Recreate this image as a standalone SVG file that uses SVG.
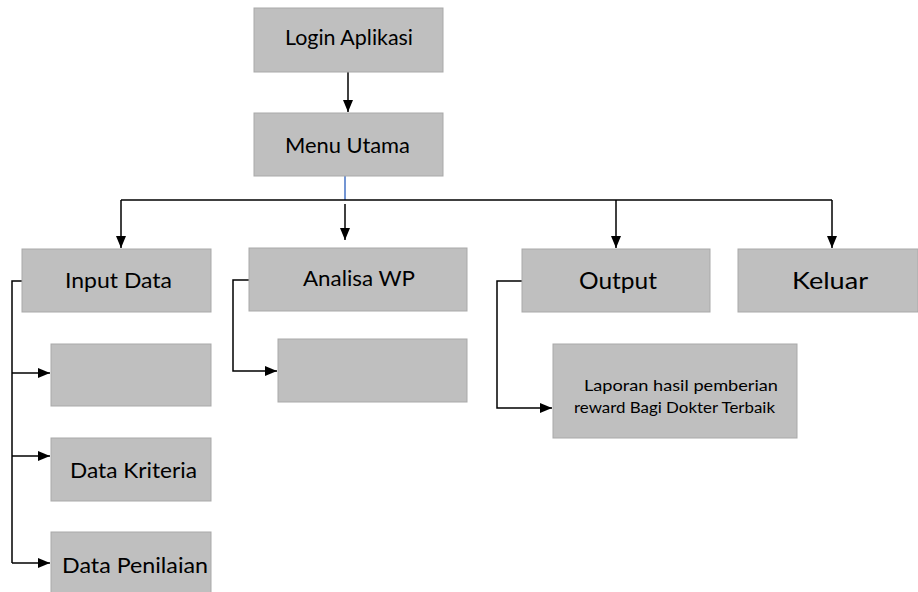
<svg xmlns="http://www.w3.org/2000/svg" width="918" height="592" viewBox="0 0 918 592">
  <style>
    .box { fill: #bfbfbf; stroke: #a9a9a9; stroke-width: 1; }
    text { font-family: "Lato", "Open Sans", sans-serif; fill: #000; }
    .lbl { font-size: 21px; }
    .lbl-m { font-size: 22px; }
    .lbl-l { font-size: 24px; }
    .lbl-s { font-size: 16px; }
    .wire { fill: none; stroke: #000; stroke-width: 1.5; }
  </style>
  <defs>
    <marker id="arrowH" viewBox="0 0 12 10" refX="12" refY="5" markerWidth="13" markerHeight="10" markerUnits="userSpaceOnUse" orient="auto">
      <path d="M0,0 L12,5 L0,10 z" fill="#000"/>
    </marker>
  </defs>

  <rect width="918" height="592" fill="#fff"/>

  <g id="connectors">
    <line class="wire" x1="348" y1="72" x2="348" y2="112" marker-end="url(#arrowH)"/>
    <line x1="345" y1="176" x2="345" y2="200" stroke="#4472c4" stroke-width="1.5"/>
    <line class="wire" x1="121" y1="200" x2="832" y2="200"/>
    <line class="wire" x1="121" y1="200" x2="121" y2="248" marker-end="url(#arrowH)"/>
    <line class="wire" x1="345" y1="204" x2="345" y2="240" marker-end="url(#arrowH)"/>
    <line class="wire" x1="616" y1="200" x2="616" y2="248" marker-end="url(#arrowH)"/>
    <line class="wire" x1="832" y1="200" x2="832" y2="248" marker-end="url(#arrowH)"/>

    <polyline class="wire" points="22,281 12,281 12,563"/>
    <line class="wire" x1="12" y1="373" x2="50" y2="373" marker-end="url(#arrowH)"/>
    <line class="wire" x1="12" y1="456" x2="50" y2="456" marker-end="url(#arrowH)"/>
    <line class="wire" x1="12" y1="563" x2="50" y2="563" marker-end="url(#arrowH)"/>

    <polyline class="wire" points="249,280 233,280 233,371 277,371" marker-end="url(#arrowH)"/>
    <polyline class="wire" points="522,281 497,281 497,408 552,408" marker-end="url(#arrowH)"/>
  </g>

  <g id="login">
    <rect class="box" x="254" y="8" width="189" height="64"/>
    <text class="lbl" x="285" y="45" textLength="128" lengthAdjust="spacingAndGlyphs">Login Aplikasi</text>
  </g>
  <g id="menu-utama">
    <rect class="box" x="254" y="113" width="189" height="63"/>
    <text class="lbl" x="285" y="153" textLength="125" lengthAdjust="spacingAndGlyphs">Menu Utama</text>
  </g>
  <g id="input-data">
    <rect class="box" x="22" y="249" width="189" height="63"/>
    <text class="lbl-m" x="65" y="288" textLength="107" lengthAdjust="spacingAndGlyphs">Input Data</text>
  </g>
  <g id="input-blank">
    <rect class="box" x="51" y="344" width="160" height="62"/>
  </g>
  <g id="data-kriteria">
    <rect class="box" x="51" y="438" width="160" height="63"/>
    <text class="lbl-m" x="70" y="478" textLength="127" lengthAdjust="spacingAndGlyphs">Data Kriteria</text>
  </g>
  <g id="data-penilaian">
    <rect class="box" x="51" y="532" width="160" height="63"/>
    <text class="lbl-m" x="62" y="573" textLength="146" lengthAdjust="spacingAndGlyphs">Data Penilaian</text>
  </g>
  <g id="analisa-wp">
    <rect class="box" x="249" y="248" width="218" height="63"/>
    <text class="lbl-m" x="303" y="286" textLength="112" lengthAdjust="spacingAndGlyphs">Analisa WP</text>
  </g>
  <g id="analisa-blank">
    <rect class="box" x="278" y="339" width="189" height="63"/>
  </g>
  <g id="output">
    <rect class="box" x="522" y="249" width="188" height="63"/>
    <text class="lbl-l" x="579" y="289" textLength="78" lengthAdjust="spacingAndGlyphs">Output</text>
  </g>
  <g id="keluar">
    <rect class="box" x="738" y="249" width="180" height="63"/>
    <text class="lbl-l" x="792" y="289" textLength="76" lengthAdjust="spacingAndGlyphs">Keluar</text>
  </g>
  <g id="laporan">
    <rect class="box" x="553" y="344" width="244" height="94"/>
    <text class="lbl-s" x="584" y="391" textLength="194" lengthAdjust="spacingAndGlyphs">Laporan hasil pemberian</text>
    <text class="lbl-s" x="574" y="413" textLength="201" lengthAdjust="spacingAndGlyphs">reward Bagi Dokter Terbaik</text>
  </g>
</svg>
